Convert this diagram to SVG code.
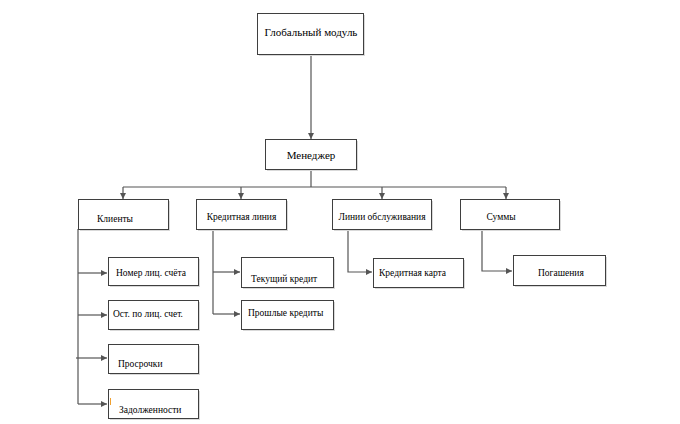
<svg xmlns="http://www.w3.org/2000/svg" width="680" height="424" viewBox="0 0 680 424">
<style>
.box{fill:#fff;stroke:#3f3f3f;stroke-width:1}
.sh{fill:#d9d9d9;stroke:none}
.t{font-family:'Liberation Serif','Times New Roman',serif;font-size:9.5px;fill:#000}
.big{font-size:11px}
.c{fill:none;stroke:#555;stroke-width:1.2}
</style>
<defs>
<marker id="a" markerUnits="userSpaceOnUse" markerWidth="7" markerHeight="7" refX="6" refY="3.5" orient="auto">
<path d="M0,0.5 L6,3.5 L0,6.5 Z" fill="#555"/>
</marker>
</defs>
<rect width="680" height="424" fill="#fff"/>
<g id="connectors">
<line class="c" x1="311" y1="54" x2="311" y2="139" marker-end="url(#a)"/>
<polyline class="c" points="311,169 311,187"/>
<line class="c" x1="123" y1="187" x2="506" y2="187"/>
<line class="c" x1="123" y1="187" x2="123" y2="199" marker-end="url(#a)"/>
<line class="c" x1="241" y1="187" x2="241" y2="199" marker-end="url(#a)"/>
<line class="c" x1="382" y1="187" x2="382" y2="199" marker-end="url(#a)"/>
<line class="c" x1="506" y1="187" x2="506" y2="199" marker-end="url(#a)"/>
<line class="c" x1="78" y1="229" x2="78" y2="404"/>
<line class="c" x1="78" y1="273" x2="107" y2="273" marker-end="url(#a)"/>
<line class="c" x1="78" y1="315" x2="107" y2="315" marker-end="url(#a)"/>
<line class="c" x1="76" y1="358" x2="107" y2="358" marker-end="url(#a)"/>
<line class="c" x1="78" y1="404" x2="107" y2="404" marker-end="url(#a)"/>
<line class="c" x1="213" y1="229" x2="213" y2="314"/>
<line class="c" x1="213" y1="272" x2="240" y2="272" marker-end="url(#a)"/>
<line class="c" x1="213" y1="314" x2="240" y2="314" marker-end="url(#a)"/>
<polyline class="c" points="348,229 348,272 372,272" marker-end="url(#a)"/>
<polyline class="c" points="482,229 482,271 512,271" marker-end="url(#a)"/>
</g>
<g id="global"><rect class="sh" x="259" y="15" width="106" height="41"/><rect class="box" x="257.5" y="13.5" width="106" height="41"/><text class="t big" x="311" y="36" text-anchor="middle">Глобальный модуль</text></g>
<g id="manager"><rect class="sh" x="267" y="141" width="91" height="30"/><rect class="box" x="265.5" y="139.5" width="91" height="30"/><text class="t big" x="311" y="159" text-anchor="middle">Менеджер</text></g>
<g id="clients"><rect class="sh" x="80" y="201" width="90" height="30"/><rect class="box" x="78.5" y="199.5" width="90" height="30"/><text class="t" x="97" y="222">Клиенты</text></g>
<g id="credit-line"><rect class="sh" x="198" y="201" width="90" height="30"/><rect class="box" x="196.5" y="199.5" width="90" height="30"/><text class="t" x="241.5" y="220" text-anchor="middle">Кредитная линия</text></g>
<g id="service-lines"><rect class="sh" x="334" y="201" width="99" height="30"/><rect class="box" x="332.5" y="199.5" width="99" height="30"/><text class="t" x="382" y="220" text-anchor="middle">Линии обслуживания</text></g>
<g id="sums"><rect class="sh" x="462" y="201" width="99" height="30"/><rect class="box" x="460.5" y="199.5" width="99" height="30"/><text class="t" x="501" y="220" text-anchor="middle">Суммы</text></g>
<g id="account-number"><rect class="sh" x="110" y="259" width="90" height="28"/><rect class="box" x="108.5" y="257.5" width="90" height="28"/><text class="t" x="116" y="276">Номер лиц. счёта</text></g>
<g id="account-balance"><rect class="sh" x="110" y="302" width="90" height="29"/><rect class="box" x="108.5" y="300.5" width="90" height="29"/><text class="t" x="113" y="317">Ост. по лиц. счет.</text></g>
<g id="overdue"><rect class="sh" x="110" y="346" width="90" height="29"/><rect class="box" x="108.5" y="344.5" width="90" height="29"/><text class="t" x="118" y="367">Просрочки</text></g>
<g id="debts"><rect class="sh" x="110" y="391" width="90" height="29"/><rect class="box" x="108.5" y="389.5" width="90" height="29"/><text class="t" x="119" y="413">Задолженности</text><line x1="110.5" y1="398" x2="110.5" y2="405" stroke="#f0a030" stroke-width="1"/></g>
<g id="current-credit"><rect class="sh" x="243" y="259" width="92" height="30"/><rect class="box" x="241.5" y="257.5" width="92" height="30"/><text class="t" x="251" y="282">Текущий кредит</text></g>
<g id="past-credits"><rect class="sh" x="243" y="302" width="92" height="29"/><rect class="box" x="241.5" y="300.5" width="92" height="29"/><text class="t" x="248" y="316">Прошлые кредиты</text></g>
<g id="credit-card"><rect class="sh" x="375" y="260" width="90" height="29"/><rect class="box" x="373.5" y="258.5" width="90" height="29"/><text class="t" x="379" y="276">Кредитная карта</text></g>
<g id="repayments"><rect class="sh" x="515" y="257" width="92" height="30"/><rect class="box" x="513.5" y="255.5" width="92" height="30"/><text class="t" x="538" y="276">Погашения</text></g>
</svg>
